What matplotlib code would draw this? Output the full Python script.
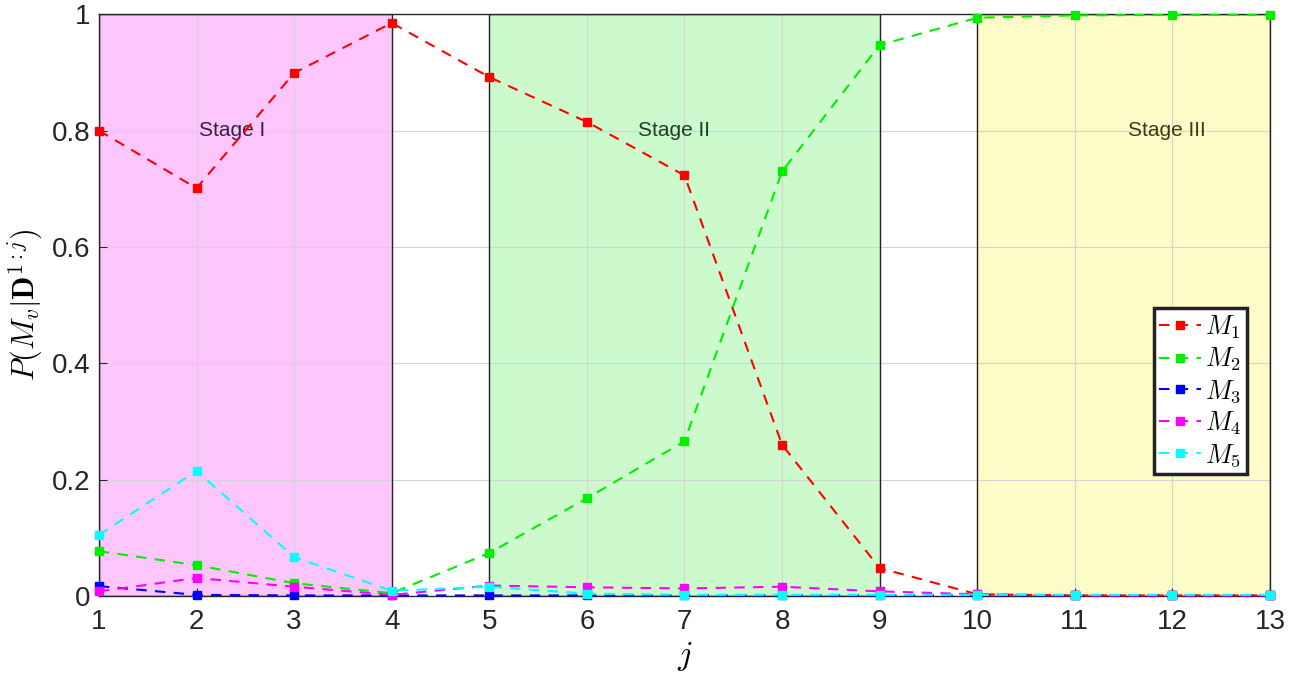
import numpy as np
import matplotlib
matplotlib.use('Agg')
import matplotlib.pyplot as plt
from matplotlib.patches import Rectangle

plt.rcParams['font.family'] = ['Liberation Sans', 'DejaVu Sans']
plt.rcParams['mathtext.fontset'] = 'cm'

# posterior model probabilities per update step j
j = np.arange(1, 14)
M1 = [0.800, 0.701, 0.899, 0.985, 0.892, 0.815, 0.723, 0.260, 0.048, 0.003, 0.001, 0.001, 0.001]
M2 = [0.077, 0.053, 0.022, 0.005, 0.074, 0.168, 0.266, 0.730, 0.947, 0.994, 0.998, 0.999, 0.999]
M3 = [0.017, 0.002, 0.001, 0.001, 0.001, 0.001, 0.001, 0.001, 0.001, 0.001, 0.001, 0.001, 0.001]
M4 = [0.008, 0.031, 0.016, 0.002, 0.018, 0.015, 0.013, 0.016, 0.008, 0.003, 0.001, 0.001, 0.001]
M5 = [0.105, 0.215, 0.067, 0.009, 0.016, 0.004, 0.002, 0.002, 0.002, 0.002, 0.002, 0.002, 0.002]

stages = ['Stage I', 'Stage II', 'Stage III']
stage_start = [1, 5, 10]
stage_end = [4, 9, 13]
stage_text_x = [2.36, 6.89, 11.94]
stage_colors = ['#fdc7fd', '#ccfacc', '#fdfcc8']
stage_text_colors = ['#3a1f45', '#1f3f22', '#3a3a22']

fig = plt.figure(figsize=(13.07, 6.79), dpi=100)
ax = fig.add_axes([0.0757, 0.1222, 0.8960, 0.8568])

for name, s, e, tx, c, tc in zip(stages, stage_start, stage_end, stage_text_x,
                                 stage_colors, stage_text_colors):
    # fill below the grid, outline above it
    ax.add_patch(Rectangle((s, 0), e - s, 1, facecolor=c, edgecolor='none', zorder=1))
    ax.add_patch(Rectangle((s, 0), e - s, 1, facecolor='none', edgecolor='#222222',
                           lw=1.0, zorder=2))
    ax.text(tx, 0.8, name, ha='center', va='center', fontsize=15, color=tc, zorder=3)

series = [M1, M2, M3, M4, M5]
colors = ['#ff0000', '#00ee00', '#0000ff', '#ff00ff', '#00ffff']
labels = ['$M_1$', '$M_2$', '$M_3$', '$M_4$', '$M_5$']
for y, c, lab in zip(series, colors, labels):
    ax.plot(j, y, ls='--', color=c, lw=1.5, marker='s', ms=6, dashes=(5, 4),
            label=lab, zorder=4, clip_on=False)

ax.set_xlim(1, 13)
ax.set_ylim(0, 1)
ax.set_xticks(j)
ax.set_yticks([0, 0.2, 0.4, 0.6, 0.8, 1])
ax.set_yticklabels(['0', '0.2', '0.4', '0.6', '0.8', '1'])
ax.tick_params(direction='in', labelsize=20, colors='#262626', length=6)
ax.tick_params(axis='x', pad=9)
ax.tick_params(axis='y', pad=6)
ax.grid(True, color='#d4d4d4', lw=0.8)
for sp in ax.spines.values():
    sp.set_color('#262626')
    sp.set_linewidth(1.0)

ax.set_xlabel('$j$', fontsize=24, labelpad=4)
ax.set_ylabel(r'$P(M_v|\mathbf{D}^{1:j})$', fontsize=22, labelpad=4)

leg = ax.legend(loc='lower right', bbox_to_anchor=(0.98, 0.21), borderaxespad=0,
                fontsize=19, fancybox=False, framealpha=1, edgecolor='#222222',
                handlelength=1.6, handletextpad=0.15, labelspacing=0.18, borderpad=0.2)
leg.get_frame().set_linewidth(2.5)
leg.set_zorder(10)

fig.savefig('out.png', dpi=100)
